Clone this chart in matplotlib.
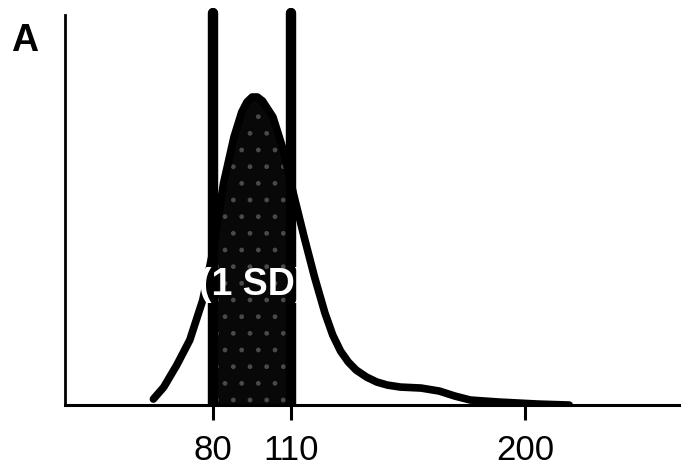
import matplotlib
matplotlib.use("Agg")
import matplotlib.pyplot as plt
import numpy as np

# distribution outline (x value, height above axis)
curve_x = [57, 61, 66, 71, 76, 80, 84, 88, 91, 93, 95, 97, 99, 103, 107, 111,
           115, 119, 123, 126, 129, 132, 135, 139, 143, 147, 152, 160, 167,
           173, 179, 190, 205, 217]
curve_y = [6, 18, 40, 65, 105, 155, 222, 268, 293, 303, 308, 308, 304, 288,
           255, 210, 168, 128, 92, 70, 54, 43, 35, 28, 23, 20, 18, 17, 14,
           9, 5, 3, 1, 0]

sd_low, sd_high = 80, 110
tick_values = [80, 110, 200]
tick_labels = ["80", "110", "200"]
band_label = "(1 SD)"
panel_label = "A"

fig = plt.figure(figsize=(6.81, 4.71), dpi=100)
ax = fig.add_axes([0.0955, 0.140, 0.9045, 0.843])

cx = np.array(curve_x, dtype=float)
cy = np.array(curve_y, dtype=float)

# shaded band under the curve between the two SD lines
inside = (cx >= sd_low) & (cx <= sd_high)
bx = np.concatenate([[sd_low], cx[inside], [sd_high]])
by = np.concatenate([[np.interp(sd_low, cx, cy)], cy[inside],
                     [np.interp(sd_high, cx, cy)]])
ax.fill_between(bx, 0, by, facecolor="#080808", edgecolor="#4a4a4a",
                hatch=".", linewidth=0, zorder=2)

ax.plot(cx, cy, color="black", lw=5.5, solid_capstyle="round",
        solid_joinstyle="round", zorder=3)

for v in (sd_low, sd_high):
    ax.plot([v, v], [0, 392], color="black", lw=7.5, solid_capstyle="round",
            zorder=4)

ax.text(95.5, 120, band_label, color="white", fontsize=27, fontweight="bold",
        family=["Liberation Sans", "DejaVu Sans"], ha="center", va="center",
        zorder=5)

ax.set_xlim(23, 260)
ax.set_ylim(0, 397)
ax.spines["top"].set_visible(False)
ax.spines["right"].set_visible(False)
ax.spines["left"].set_linewidth(2)
ax.spines["bottom"].set_linewidth(2.2)
ax.spines["left"].set_bounds(0, 390)
ax.set_yticks([])
ax.set_xticks(tick_values)
ax.set_xticklabels(tick_labels, family=["Liberation Sans Narrow", "Liberation Sans"],
                   fontsize=25)
ax.tick_params(axis="x", length=11, width=2.2, pad=10, direction="out")

fig.text(0.016, 0.912, panel_label, fontsize=27, fontweight="bold",
         family=["Liberation Sans", "DejaVu Sans"], ha="left", va="center")

fig.savefig("out.png", dpi=100)
